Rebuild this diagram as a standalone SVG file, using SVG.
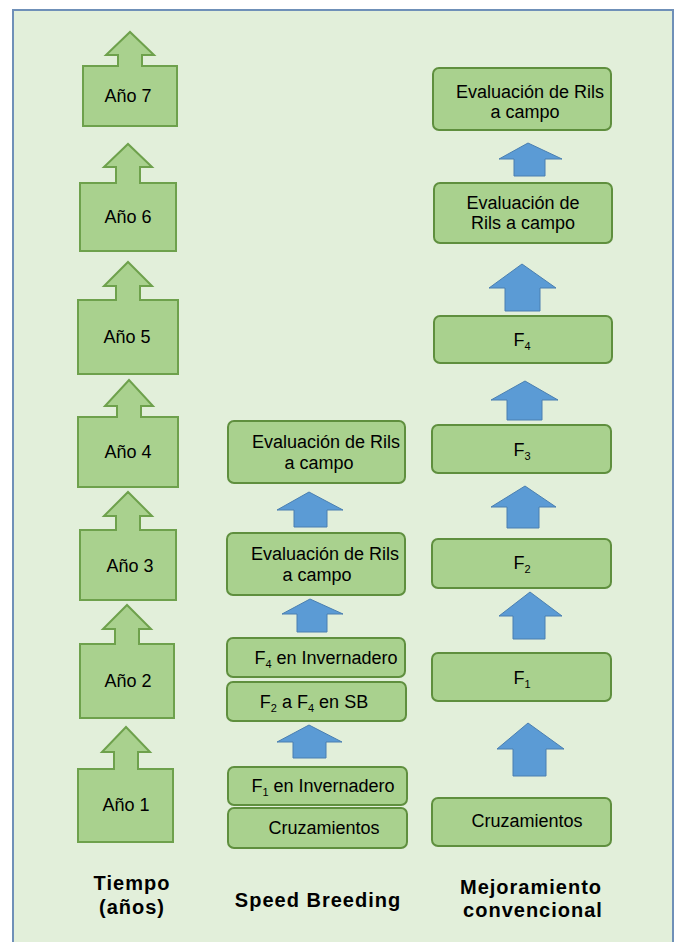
<svg xmlns="http://www.w3.org/2000/svg" width="680" height="942" viewBox="0 0 680 942">
<style>
.bg{fill:#e2efda;stroke:#6f90b8;stroke-width:2}
.yr{fill:#a9d18e;stroke:#6ea14c;stroke-width:2}
.nd{fill:#a9d18e;stroke:#5f8f3e;stroke-width:2}
.ar{fill:#5b9bd5;stroke:#4a7fb0;stroke-width:1}
text{font-family:"Liberation Sans",Arial,sans-serif;font-size:18px;fill:#000;text-anchor:middle}
.lb{font-size:20px;font-weight:bold;letter-spacing:1px}
.sb{font-size:11px}
</style>
<rect class="bg" x="13" y="10" width="660" height="940"/>

<g id="anio7"><path class="yr" d="M83,66 H118 V55 H106 L130,32 L154,55 H142 V66 H177 V126 H83 Z"/><text x="128" y="102">Año 7</text></g>
<g id="anio6"><path class="yr" d="M80,183 H116 V167 H104 L128,144 L152,167 H140 V183 H176 V251 H80 Z"/><text x="128" y="223">Año 6</text></g>
<g id="anio5"><path class="yr" d="M78,300 H116 V286 H104 L128,262 L152,286 H140 V300 H178 V374 H78 Z"/><text x="127" y="343">Año 5</text></g>
<g id="anio4"><path class="yr" d="M78,417 H117 V406 H105 L129,380 L153,406 H141 V417 H178 V487 H78 Z"/><text x="128" y="458">Año 4</text></g>
<g id="anio3"><path class="yr" d="M80,530 H116 V516 H104 L128,492 L152,516 H140 V530 H176 V600 H80 Z"/><text x="130" y="572">Año 3</text></g>
<g id="anio2"><path class="yr" d="M80,644 H115 V629 H103 L127,605 L151,629 H139 V644 H174 V718 H80 Z"/><text x="128" y="687">Año 2</text></g>
<g id="anio1"><path class="yr" d="M78,769 H114 V752 H102 L126,727 L150,752 H138 V769 H173 V842 H78 Z"/><text x="126" y="811">Año 1</text></g>

<g id="sb-eval2"><rect class="nd" x="228" y="421" width="177" height="62" rx="6"/><text x="326" y="448">Evaluación de Rils</text><text x="319" y="469">a campo</text></g>
<g id="sb-eval1"><rect class="nd" x="227" y="533" width="178" height="62" rx="6"/><text x="325" y="560">Evaluación de Rils</text><text x="317" y="581">a campo</text></g>
<g id="sb-f4inv"><rect class="nd" x="227" y="638" width="178" height="39" rx="6"/><text x="326" y="664">F<tspan class="sb" dy="4">4</tspan><tspan dy="-4"> en Invernadero</tspan></text></g>
<g id="sb-f2f4"><rect class="nd" x="227" y="682" width="179" height="39" rx="6"/><text x="314" y="708">F<tspan class="sb" dy="4">2</tspan><tspan dy="-4"> a F</tspan><tspan class="sb" dy="4">4</tspan><tspan dy="-4"> en SB</tspan></text></g>
<g id="sb-f1inv"><rect class="nd" x="228" y="767" width="179" height="38" rx="6"/><text x="323" y="792">F<tspan class="sb" dy="4">1</tspan><tspan dy="-4"> en Invernadero</tspan></text></g>
<g id="sb-cruz"><rect class="nd" x="228" y="808" width="179" height="40" rx="6"/><text x="324" y="834">Cruzamientos</text></g>

<g id="mc-eval2"><rect class="nd" x="433" y="68" width="178" height="62" rx="6"/><text x="530" y="98">Evaluación de Rils</text><text x="525" y="118">a campo</text></g>
<g id="mc-eval1"><rect class="nd" x="434" y="183" width="178" height="60" rx="6"/><text x="523" y="209">Evaluación de</text><text x="523" y="229">Rils a campo</text></g>
<g id="mc-f4"><rect class="nd" x="434" y="316" width="178" height="47" rx="6"/><text x="522" y="346">F<tspan class="sb" dy="4">4</tspan></text></g>
<g id="mc-f3"><rect class="nd" x="432" y="425" width="179" height="48" rx="6"/><text x="522" y="456">F<tspan class="sb" dy="4">3</tspan></text></g>
<g id="mc-f2"><rect class="nd" x="432" y="539" width="179" height="49" rx="6"/><text x="522" y="569">F<tspan class="sb" dy="4">2</tspan></text></g>
<g id="mc-f1"><rect class="nd" x="432" y="653" width="179" height="48" rx="6"/><text x="522" y="684">F<tspan class="sb" dy="4">1</tspan></text></g>
<g id="mc-cruz"><rect class="nd" x="432" y="798" width="179" height="48" rx="6"/><text x="527" y="827">Cruzamientos</text></g>

<g id="connectors">
<polygon class="ar" points="277,510 309,492 343,510 327,510 327,527 294,527 294,510"/>
<polygon class="ar" points="282,614 310,599 343,614 327,614 327,632 297,632 297,614"/>
<polygon class="ar" points="277,742 309,725 342,742 326,742 326,758 293,758 293,742"/>
<polygon class="ar" points="499,159 528,143 562,159 545,159 545,176 514,176 514,159"/>
<polygon class="ar" points="489,288 522,264 556,288 540,288 540,311 505,311 505,288"/>
<polygon class="ar" points="491,400 525,381 558,400 542,400 542,420 507,420 507,400"/>
<polygon class="ar" points="491,507 525,486 556,507 539,507 539,528 507,528 507,507"/>
<polygon class="ar" points="499,616 530,592 562,616 545,616 545,639 513,639 513,616"/>
<polygon class="ar" points="497,749 528,723 564,749 546,749 546,776 513,776 513,749"/>
</g>

<g id="labels">
<text class="lb" x="132" y="890">Tiempo</text>
<text class="lb" x="132" y="914">(años)</text>
<text class="lb" x="318" y="907">Speed Breeding</text>
<text class="lb" x="531" y="894">Mejoramiento</text>
<text class="lb" x="533" y="917">convencional</text>
</g>
</svg>
